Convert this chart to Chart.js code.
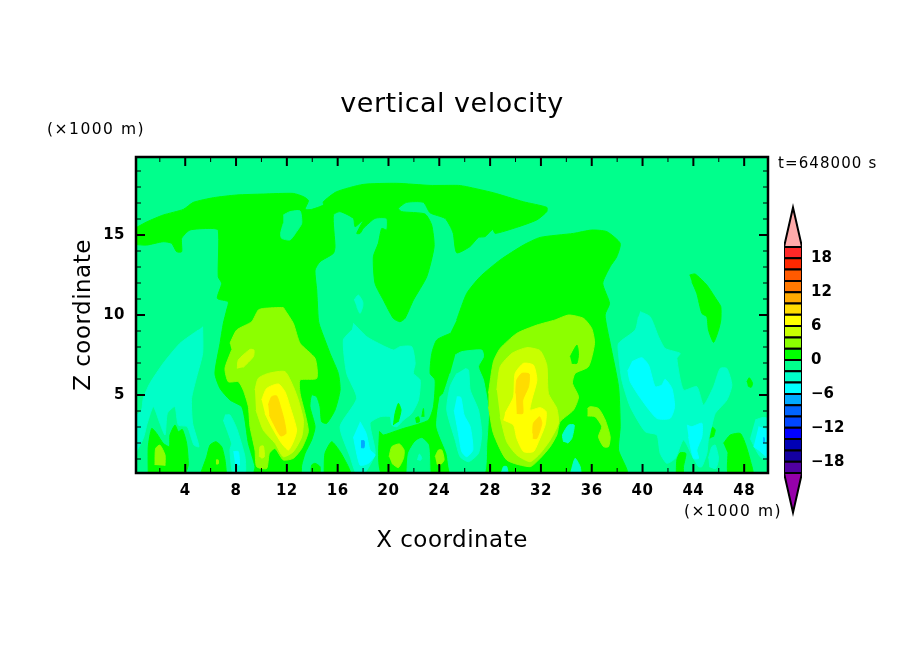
<!DOCTYPE html>
<html>
<head>
<meta charset="utf-8">
<title>vertical velocity</title>
<script src="https://cdn.jsdelivr.net/npm/chart.js@4"></script>
<style>
    html, body { margin: 0; padding: 0; background: #fff; }
    #wrap { position: relative; width: 904px; height: 654px; overflow: hidden; }
    canvas { position: absolute; left: 0; top: 0; }
</style>
</head>
<body>
<div id="wrap">
    <canvas id="field" width="904" height="654"></canvas>
    <canvas id="bar" width="904" height="654"></canvas>
</div>
<script>
// Axes (km)
const xTicks = [4, 8, 12, 16, 20, 24, 28, 32, 36, 40, 44, 48];
const xMinor = [2, 6, 10, 14, 18, 22, 26, 30, 34, 38, 42, 46];
const zTicks = [5, 10, 15];
const zMinor = [1, 2, 3, 4, 6, 7, 8, 9, 11, 12, 13, 14, 16, 17, 18, 19];

// Colour levels
const barLevels = [-20, -18, -16, -14, -12, -10, -8, -6, -4, -2, 0, 2, 4, 6, 8, 10, 12, 14, 16, 18, 20];
const barColors = ['#5000a0', '#1400a0', '#0000b4', '#0000ff', '#0046ff', '#0064ff', '#00aaff', '#00ffff', '#00ffc8', '#00ff8c',
    '#00ff00', '#8cff00', '#c8ff00', '#ffff00', '#ffdc00', '#ffaa00', '#ff7800', '#ff5a00', '#ff2800', '#ff2828'];
const barTicks = [-18, -12, -6, 0, 6, 12, 18];

// Contour regions, [x km, z km]
const background = [[0, 0], [50, 0], [50, 20], [0, 20]];
const greenCap = [[0, 15.4], [1, 15.83], [2.27, 16.25], [3.85, 16.6], [4.64, 17.04], [6.21, 17.33], [8.05, 17.5], [10.15, 17.56], [12.5, 17.6], [13.3, 17.4], [13.7, 17.15], [13.43, 16.6], [13.95, 16.6], [14.87, 16.87], [14.87, 17.08], [15.9, 17.7], [18, 18.16], [20.65, 18.23], [23.27, 18.1], [25.5, 18.1], [26.16, 18.02], [28.26, 17.64], [30.62, 17.08], [32.46, 16.73], [32.46, 16.46], [31.67, 15.94], [30.1, 15.48], [28.4, 15.1], [28.2, 15.35], [27.6, 14.9], [27.08, 14.85], [26.4, 14.27], [25.37, 13.89], [25.1, 15.1], [24.85, 15.56], [24.45, 16.04], [23.27, 16.39], [22.75, 17.04], [21.43, 17.04], [20.78, 16.66], [21.04, 16.46], [22.88, 16.31], [23.4, 15.62], [23.59, 14.27], [23.01, 12.39], [21.96, 10.93], [21.3, 9.79], [20.9, 9.58], [20.38, 9.79], [19.6, 10.93], [18.94, 11.98], [18.81, 13.64], [19.2, 14.48], [19.47, 15.41], [19.86, 15.31], [19.86, 16.04], [18.94, 16.04], [18.02, 15.41], [17.76, 15.1], [17.5, 15.1], [18.02, 15.94], [17.37, 15.52], [17.24, 16.04], [16.19, 16.46], [15.66, 16.25], [15.79, 14.27], [15.66, 13.85], [14.61, 13.33], [14.22, 12.81], [14.35, 11.56], [14.48, 9.69], [14.61, 9.27], [15.4, 7.6], [16.05, 6.35], [16.19, 5.31], [15.79, 4.06], [15.14, 3.23], [14.74, 3.33], [14.61, 4.27], [14.35, 4.89], [13.95, 5], [13.82, 4.27], [14.22, 3.02], [13.95, 2.19], [13.43, 1.35], [13.17, 0.62], [13.04, 0], [9.41, 0], [9.49, 0.52], [8.97, 1.98], [8.7, 3.44], [8.44, 4.27], [7.52, 4.69], [6.74, 5.41], [6.34, 6.35], [6.74, 8.23], [7, 9.48], [7.26, 10.31], [7.39, 10.83], [6.53, 11.04], [6.87, 11.98], [6.6, 12.39], [6.6, 15.31], [5.95, 15.41], [4.37, 15.31], [3.72, 14.79], [3.72, 13.96], [3.32, 13.96], [2.93, 14.48], [2.27, 14.58], [0.96, 14.37], [0, 14.41]];
const capHole = [[11.72, 16.25], [12.25, 16.46], [13.04, 16.5], [13.17, 15.73], [12.77, 15.21], [12.25, 14.69], [11.59, 14.79], [11.51, 15.1], [11.72, 15.73]];
const greenLow1 = [[1.09, 0], [1.09, 1.77], [1.36, 2.91], [1.75, 2.6], [2.27, 1.98], [2.75, 1.77], [2.8, 2.5], [3.19, 3.12], [3.46, 2.71], [3.77, 2.85], [4.11, 1.98], [4.24, 0.62], [3.98, 0]];
const greenLow2 = [[5.16, 0], [5.69, 1.14], [5.95, 1.87], [6.42, 2.08], [6.87, 1.77], [7.13, 0.94], [7.26, 0]];
const greenLow3 = [[13.9, 0], [13.95, 0.62], [14.22, 0.73], [14.61, 0.52], [14.61, 0]];
const greenLow4 = [[14.93, 0], [15, 1.35], [15.53, 2.08], [16.19, 1.46], [16.84, 0.52], [17.1, 0]];
const greenDome = [[25.37, 9.69], [26.16, 11.35], [27.21, 12.39], [28.79, 13.44], [30.62, 14.37], [31.94, 14.85], [34.56, 15.1], [36, 15.31], [37.19, 15.21], [38.24, 14.48], [37.97, 13.64], [37.45, 13.02], [36.87, 11.98], [37.4, 10.73], [37.05, 10], [37.45, 8.23], [38.11, 5.52], [38.24, 3.02], [38.11, 1.56], [38.76, 0], [19.6, 0], [19.29, 2.71], [19.6, 2.5], [20.65, 2.77], [21.18, 2.91], [22.1, 3.12], [23.15, 3.44], [23.54, 4.27], [23.67, 5.94], [23.28, 6.35], [23.41, 7.6], [23.8, 8.44], [24.85, 8.85]];
const domeGap1 = [[25.25, 7.5], [25.77, 7.71], [27.34, 7.81], [27.48, 7.39], [27.08, 6.77], [27.48, 5.94], [27.87, 4.06], [27.74, 1.98], [27.48, 0], [24.98, 0], [24.59, 1.35], [23.8, 3.02], [24.06, 4.89], [24.33, 5.1], [24.85, 6.35]];
const domeGap2 = [[21.44, 0], [21.57, 1.35], [22.1, 2.08], [22.62, 2.29], [23.15, 1.87], [23.28, 0]];
const greenSliver = [[43.7, 12.5], [44.14, 12.56], [45.06, 11.87], [45.85, 10.93], [46.16, 10.52], [46.16, 9.69], [45.98, 9.06], [45.59, 8.29], [45.19, 9.06], [45.06, 9.89], [44.67, 10.1], [44.27, 11.35], [43.88, 12.08]];
const greenDot1 = [[48.21, 5.83], [48.4, 6.08], [48.66, 5.73], [48.55, 5.48], [48.29, 5.56]];
const greenDot2 = [[45.32, 2.29], [45.51, 2.98], [45.72, 2.81], [45.59, 2.39]];
const greenRight1 = [[46.37, 1.98], [46.9, 2.5], [47.69, 2.6], [48.08, 1.98], [48.47, 0.94], [48.68, 0], [46.77, 0], [46.72, 1.35]];
const greenRight2 = [[42.65, 0], [42.7, 0.94], [42.96, 1.39], [43.41, 1.35], [43.22, 0.52], [43.22, 0]];
const greenBit1 = [[20.39, 3.12], [20.52, 3.85], [20.78, 4.48], [20.99, 4.06], [20.78, 3.33]];
const greenBit2 = [[22.1, 3.54], [22.36, 3.64], [22.44, 3.33], [22.17, 3.27]];
const greenBit3 = [[22.62, 3.64], [22.75, 4.16], [22.8, 3.64]];

const tealLeft = [[5.37, 9.27], [5.37, 7.6], [4.9, 6.14], [4.5, 4.79], [4.58, 3.23], [5.08, 1.77], [4.69, 1.87], [4.16, 3.02], [3.46, 3.12], [3.19, 4.27], [2.59, 3.85], [2.41, 2.5], [2.01, 3.23], [1.49, 4.27], [1.01, 3.23], [0.7, 2.29], [0.1, 1.46], [0.1, 3.64], [0.57, 4.06], [0.7, 4.79], [1.22, 5.73], [2.27, 6.98], [3.59, 8.23], [5.03, 9.06]];
const tealStem = [[7.13, 3.75], [7.52, 3.75], [8.05, 2.91], [8.7, 1.14], [8.7, 0], [7.79, 0], [7.52, 1.56], [7.65, 1.98], [7, 3.44]];
const tealCentre = [[17.24, 9.48], [18.29, 8.64], [19.21, 8.23], [20.39, 7.81], [20.91, 8.02], [21.83, 8.02], [22.1, 6.98], [21.96, 6.35], [22.49, 5.94], [22.36, 4.69], [21.83, 3.85], [21.18, 3.44], [20.65, 3.02], [20.26, 3.12], [20.13, 3.64], [19.34, 3.64], [18.55, 3.23], [18.95, 1.35], [18.03, 0], [17.5, 0], [16.98, 1.14], [16.19, 3.02], [17.5, 4.79], [16.71, 6.35], [16.45, 8.44], [17.11, 9.06]];
const tealSpot = [[17.29, 10.93], [17.63, 11.25], [17.97, 10.83], [17.97, 10.52], [17.76, 10.1], [17.5, 10.52]];
const tealDomeGap = [[22.28, 0.94], [22.44, 1.31], [22.62, 1.04], [22.49, 0.89]];
const tealPlume = [[26.03, 6.66], [26.3, 6.56], [26.43, 5.31], [27.08, 4.06], [27.34, 2.6], [27.08, 1.35], [26.3, 0.83], [25.64, 1.14], [25.25, 2.19], [24.59, 4.06], [24.85, 5.52], [25.38, 6.35]];
const tealFoot1 = [[28.84, 0], [29.05, 0.52], [29.31, 0.52], [29.44, 0]];
const tealFoot2 = [[34.3, 0], [34.69, 1.04], [35.09, 0.52], [35.17, 0]];
const tealDrop = [[33.78, 2.08], [33.7, 2.5], [34.17, 3.12], [34.62, 3.12], [34.43, 2.29], [34.12, 1.98]];
const tealRight = [[39.81, 10.21], [40.6, 9.89], [41.26, 8.64], [41.78, 7.91], [42.96, 7.6], [42.7, 7.29], [43.22, 5.31], [44.27, 5.52], [44.8, 4.37], [45.59, 5.52], [46.11, 6.66], [46.64, 6.66], [47.03, 5.62], [46.64, 4.69], [45.72, 3.85], [45.46, 3.12], [45.19, 2.29], [45.06, 1.35], [44.67, 0.52], [44.41, 0.52], [44.01, 1.04], [43.22, 2.19], [42.57, 1.04], [41.91, 0.73], [41.39, 1.35], [41.13, 2.5], [40.21, 2.71], [39.03, 4.27], [38.37, 5.94], [38.11, 7.6], [38.11, 8.23], [39.42, 9.06], [39.68, 9.89]];
const tealTear = [[45.19, 1.04], [45.46, 1.77], [45.72, 1.87], [45.98, 1.04], [45.77, 0.41], [45.25, 0.52]];
const tealEdge = [[48.87, 3.44], [49.52, 3.6], [50, 3.44], [50, 0.94], [49.26, 1.14], [48.47, 2.29]];

const cyanStem = [[7.79, 1.46], [8.18, 1.46], [8.26, 0.62], [7.92, 0.73]];
const cyanCentre = [[17.76, 3.33], [18.24, 2.6], [18.55, 1.56], [18.95, 1.25], [18.42, 0.73], [17.76, 0.62], [17.24, 2.39]];
const cyanPlume = [[25.38, 4.89], [25.69, 4.85], [25.95, 3.75], [26.43, 3.02], [26.64, 1.56], [26.16, 1.14], [25.77, 1.46], [25.51, 2.6], [25.17, 4.06]];
const cyanRight1 = [[39.16, 7.08], [39.94, 7.33], [40.47, 6.87], [40.99, 5.52], [41.52, 5.62], [41.78, 5.98], [42.31, 5.41], [42.52, 4.27], [42.17, 3.54], [41.13, 3.54], [39.94, 4.69], [39.03, 5.83], [38.84, 6.56]];
const cyanRight2 = [[43.49, 3.12], [43.88, 3.02], [44.67, 3.23], [44.67, 2.39], [44.27, 1.56], [44.41, 1.04], [44.01, 1.04], [43.62, 2.39]];
const cyanEdge = [[49.13, 3.02], [50, 2.71], [50, 1.04], [49.13, 1.56], [48.74, 1.77]];
const blueCentre = [[17.84, 2.14], [18.08, 2.14], [18.08, 1.71], [17.84, 1.71]];
const blueEdge = [[49.5, 2.33], [49.58, 2.33], [49.58, 2.04], [49.5, 2.04]];

const limePlume1 = [[7.52, 8.23], [8.05, 9.06], [9.23, 9.58], [9.75, 10.31], [10.15, 10.41], [11.72, 10.46], [11.85, 10.31], [12.51, 9.48], [13.04, 8.23], [14.22, 7.29], [14.35, 6.04], [13.04, 5.94], [13.04, 5.1], [13.43, 3.85], [13.69, 2.71], [13.17, 1.66], [12.51, 1.04], [11.72, 0.94], [11.07, 1.66], [10.62, 1.35], [10.41, 0.41], [9.62, 0.52], [9.49, 1.56], [9.1, 3.02], [8.97, 4.27], [8.57, 5.31], [8.18, 5.83], [7.39, 5.83], [7.13, 6.66], [7.65, 7.81]];
const limeLow1 = [[1.62, 0.62], [1.67, 1.66], [2.01, 1.87], [2.41, 1.25], [2.41, 0.58]];
const limeLow2 = [[6.42, 0.94], [6.6, 0.94], [6.6, 0.69], [6.42, 0.69]];
const limeLow3 = [[20.05, 1.14], [20.26, 1.77], [20.86, 1.94], [21.23, 1.56], [21.18, 1.04], [20.78, 0.46], [20.26, 0.73]];
const limeLow4 = [[23.67, 1.14], [23.93, 1.56], [24.2, 1.56], [24.38, 0.94], [24.06, 0.62], [23.8, 0.69]];
const limePlume2 = [[27.87, 5.1], [28.26, 7.08], [28.79, 7.91], [30.1, 8.85], [31.68, 9.37], [33.12, 9.69], [34.17, 10], [35.35, 9.79], [36, 9.16], [36.22, 8.23], [35.74, 6.77], [34.69, 6.35], [34.48, 5.73], [34.96, 4.89], [34.56, 4.06], [33.51, 3.33], [33.25, 2.5], [32.73, 1.77], [31.94, 1.04], [31.15, 0.52], [29.31, 0.94], [28.26, 2.6], [27.87, 4.27]];
const limeRight = [[35.67, 4.16], [35.88, 4.27], [36.53, 4.16], [37.06, 3.44], [37.45, 2.39], [37.32, 1.77], [36.93, 1.77], [36.53, 2.39], [36.79, 3.02], [36.27, 3.64], [35.67, 3.69]];
const limeHole = [[34.3, 7.39], [34.83, 8.12], [34.96, 7.6], [34.83, 6.98], [34.43, 6.98]];

const chartreuse1 = [[9.49, 5.31], [9.75, 6.04], [10.54, 6.35], [11.85, 6.46], [12.51, 5.52], [12.9, 4.69], [13.3, 3.44], [13.17, 2.39], [12.51, 1.46], [11.72, 1.14], [11.07, 1.98], [10.15, 2.81], [9.57, 4.06]];
const chartreuse2 = [[8.1, 6.66], [8.18, 7.19], [9.1, 7.85], [9.41, 7.81], [9.36, 7.39], [8.57, 6.73]];
const chartreuse3 = [[9.83, 1.14], [9.89, 1.77], [10.15, 1.81], [10.23, 1.14], [10.02, 1.04]];
const chartreuse4 = [[28.53, 5.31], [28.79, 6.77], [29.71, 7.6], [30.89, 7.96], [31.94, 7.77], [32.46, 6.87], [32.59, 5.1], [33.25, 4.16], [33.38, 3.23], [32.73, 2.19], [31.94, 1.35], [31.15, 0.83], [30.1, 1.25], [29.31, 2.08], [28.79, 3.64]];
const yellow1 = [[10.02, 4.69], [10.41, 5.41], [11.33, 5.69], [11.85, 5.21], [12.25, 4.27], [12.77, 2.81], [12.51, 2.08], [12.12, 1.56], [11.59, 1.98], [10.8, 3.02], [10.28, 3.85]];
const yellow2 = [[29.18, 3.85], [29.84, 4.89], [29.97, 6.35], [30.63, 6.98], [31.41, 6.87], [31.68, 5.94], [31.28, 4.69], [31.15, 4.06], [31.94, 4.21], [32.41, 3.96], [32.33, 3.12], [31.81, 2.08], [31.41, 1.46], [30.63, 1.46], [30.1, 2.29], [29.84, 3.12], [29.05, 3.44]];
const amber1 = [[10.54, 4.37], [10.8, 4.89], [11.2, 4.94], [11.46, 4.37], [11.78, 3.44], [11.93, 2.6], [11.51, 2.44], [10.94, 3.23], [10.62, 3.75]];
const amber2 = [[30.02, 5.1], [30.1, 5.94], [30.49, 6.35], [31.07, 6.31], [31.02, 5.52], [30.57, 4.69], [30.57, 3.85], [30.1, 3.85]];
const amber3 = [[31.36, 2.6], [31.41, 3.23], [31.89, 3.64], [32.07, 3.23], [31.68, 2.29], [31.36, 2.29]];

// Ordre de peinture: du fond vers le dessus
const BG = '#00ff8c', GREEN = '#00ff00', TEAL = '#00ffc8', CYAN = '#00ffff', SKY = '#00aaff';
const LIME = '#8cff00', CHART = '#c8ff00', YEL = '#ffff00', AMB = '#ffdc00';
const layers = [
    [background, BG],
    [greenCap, GREEN], [greenLow1, GREEN], [greenLow2, GREEN], [greenLow3, GREEN], [greenLow4, GREEN], [greenDome, GREEN], [greenSliver, GREEN],
    [capHole, BG], [domeGap1, BG], [domeGap2, BG],
    [tealLeft, TEAL], [tealStem, TEAL], [tealCentre, TEAL], [tealSpot, TEAL], [tealDomeGap, TEAL], [tealPlume, TEAL], [tealFoot1, TEAL], [tealFoot2, TEAL], [tealDrop, TEAL], [tealRight, TEAL], [tealTear, TEAL], [tealEdge, TEAL],
    [cyanStem, CYAN], [cyanCentre, CYAN], [cyanPlume, CYAN], [cyanRight1, CYAN], [cyanRight2, CYAN], [cyanEdge, CYAN],
    [blueCentre, SKY], [blueEdge, SKY],
    [greenDot1, GREEN], [greenDot2, GREEN], [greenRight1, GREEN], [greenRight2, GREEN], [greenBit1, GREEN], [greenBit2, GREEN], [greenBit3, GREEN],
    [limePlume1, LIME], [limeLow1, LIME], [limeLow2, LIME], [limeLow3, LIME], [limeLow4, LIME], [limePlume2, LIME], [limeRight, LIME],
    [limeHole, GREEN],
    [chartreuse1, CHART], [chartreuse2, CHART], [chartreuse3, CHART], [chartreuse4, CHART],
    [yellow1, YEL], [yellow2, YEL],
    [amber1, AMB], [amber2, AMB], [amber3, AMB]
];

const FONT = 'DejaVu Sans';

function polygon(points, color, order) {
    return {
        data: points.map(p => ({ x: p[0], y: p[1] })),
        showLine: true,
        fill: 'shape',
        backgroundColor: color,
        borderColor: color,
        borderWidth: 1,
        pointRadius: 0,
        tension: 0.2,
        order: order
    };
}

// Cadre et graduations vers l'intérieur, sur les quatre côtés
const framePlugin = {
    id: 'frame',
    afterDatasetsDraw(chart) {
        const { ctx, chartArea: a, scales } = chart;
        const tick = (x1, y1, x2, y2, w) => {
            ctx.lineWidth = w;
            ctx.beginPath();
            ctx.moveTo(x1, y1);
            ctx.lineTo(x2, y2);
            ctx.stroke();
        };
        ctx.save();
        ctx.strokeStyle = '#000';
        xMinor.concat(xTicks).forEach(v => {
            const major = xTicks.includes(v);
            const px = scales.x.getPixelForValue(v);
            const len = major ? 9 : 5;
            tick(px, a.top, px, a.top + len, major ? 2 : 1);
            tick(px, a.bottom, px, a.bottom - len, major ? 2 : 1);
        });
        zMinor.concat(zTicks).forEach(v => {
            const major = zTicks.includes(v);
            const py = scales.y.getPixelForValue(v);
            const len = major ? 9 : 5;
            tick(a.left, py, a.left + len, py, major ? 2 : 1);
            tick(a.right, py, a.right - len, py, major ? 2 : 1);
        });
        ctx.lineWidth = 2.5;
        ctx.strokeRect(a.left, a.top, a.right - a.left, a.bottom - a.top);
        ctx.restore();
    }
};

// Espacement des lettres, comme la police du graphique d'origine
const spacingPlugin = {
    id: 'spacing',
    beforeLayout(chart) { chart.ctx.letterSpacing = '0.5px'; },
    beforeDraw(chart) { chart.ctx.letterSpacing = '0.5px'; }
};

// Annotations: unités et temps
const notesPlugin = {
    id: 'notes',
    afterDraw(chart) {
        const ctx = chart.ctx;
        ctx.save();
        ctx.fillStyle = '#000';
        ctx.textBaseline = 'middle';
        ctx.textAlign = 'left';
        ctx.font = '15.5px "' + FONT + '"';
        ctx.letterSpacing = '1.5px';
        ctx.fillText('(×1000 m)', 47, 130);
        ctx.fillText('(×1000 m)', 684, 512);
        ctx.font = '15px "' + FONT + '"';
        ctx.letterSpacing = '1.1px';
        ctx.fillText('t=648000 s', 778, 164);
        ctx.restore();
    }
};

new Chart(document.getElementById('field'), {
    type: 'scatter',
    data: { datasets: layers.map((l, i) => polygon(l[0], l[1], layers.length - i)) },
    plugins: [spacingPlugin, framePlugin, notesPlugin],
    options: {
        responsive: false,
        animation: false,
        events: [],
        layout: { padding: { left: 66, right: 136, top: 0, bottom: 100 } },
        plugins: {
            legend: { display: false },
            tooltip: { enabled: false },
            title: {
                display: true,
                text: 'vertical velocity',
                fullSize: false,
                color: '#000',
                font: { family: FONT, size: 27, weight: 'normal', lineHeight: 1.2 },
                padding: { top: 89, bottom: 35.6 }
            }
        },
        scales: {
            x: {
                type: 'linear',
                min: 0.125,
                max: 49.875,
                grid: { display: false, drawTicks: false },
                border: { display: false },
                afterBuildTicks: s => { s.ticks = xTicks.map(v => ({ value: v })); },
                afterFit: s => { s.height = 81; },
                ticks: { color: '#000', padding: 9, maxRotation: 0, autoSkip: false, font: { family: FONT, size: 15, weight: 'bold' } },
                title: { display: true, text: 'X coordinate', color: '#000', padding: 0, font: { family: FONT, size: 23, lineHeight: 1.1 } }
            },
            y: {
                type: 'linear',
                min: 0.125,
                max: 19.875,
                grid: { display: false, drawTicks: false },
                border: { display: false },
                afterBuildTicks: s => { s.ticks = zTicks.map(v => ({ value: v })); },
                afterFit: s => { s.width = 70; },
                ticks: { color: '#000', padding: 11, autoSkip: false, font: { family: FONT, size: 15, weight: 'bold' } },
                title: { display: true, text: 'Z coordinate', color: '#000', padding: 5, font: { family: FONT, size: 23, lineHeight: 1.1 } }
            }
        }
    }
});

// Barre de couleurs
const barSets = barColors.map((c, i) => ({
    data: [
        { x: 0, y: barLevels[i] }, { x: 1, y: barLevels[i] },
        { x: 1, y: barLevels[i + 1] }, { x: 0, y: barLevels[i + 1] }, { x: 0, y: barLevels[i] }
    ],
    showLine: true,
    fill: 'shape',
    backgroundColor: c,
    borderColor: '#000',
    borderWidth: 2,
    pointRadius: 0
}));
const tipTop = [[0, 20], [0.5, 27], [1, 20], [0, 20]];
const tipBottom = [[0, -20], [0.5, -27], [1, -20], [0, -20]];
[[tipTop, '#ffaaaa'], [tipBottom, '#9600aa']].forEach(t => {
    const set = polygon(t[0], t[1], 0);
    set.borderColor = '#000';
    set.borderWidth = 2;
    set.tension = 0;
    barSets.push(set);
});

new Chart(document.getElementById('bar'), {
    type: 'scatter',
    data: { datasets: barSets },
    options: {
        responsive: false,
        animation: false,
        events: [],
        layout: { padding: { left: 784, right: 42, top: 201.8, bottom: 135.8 } },
        plugins: { legend: { display: false }, tooltip: { enabled: false } },
        scales: {
            x: { type: 'linear', min: 0, max: 1, display: false },
            y: {
                type: 'linear',
                position: 'right',
                min: -28,
                max: 28,
                grid: { display: false, drawTicks: false },
                border: { display: false },
                afterBuildTicks: s => { s.ticks = barTicks.map(v => ({ value: v })); },
                afterFit: s => { s.width = 60; },
                ticks: {
                    color: '#000',
                    padding: 9,
                    autoSkip: false,
                    font: { family: FONT, size: 15, weight: 'bold' },
                    callback: v => String(v).replace('-', '\u2212')
                }
            }
        }
    }
});
</script>
</body>
</html>
